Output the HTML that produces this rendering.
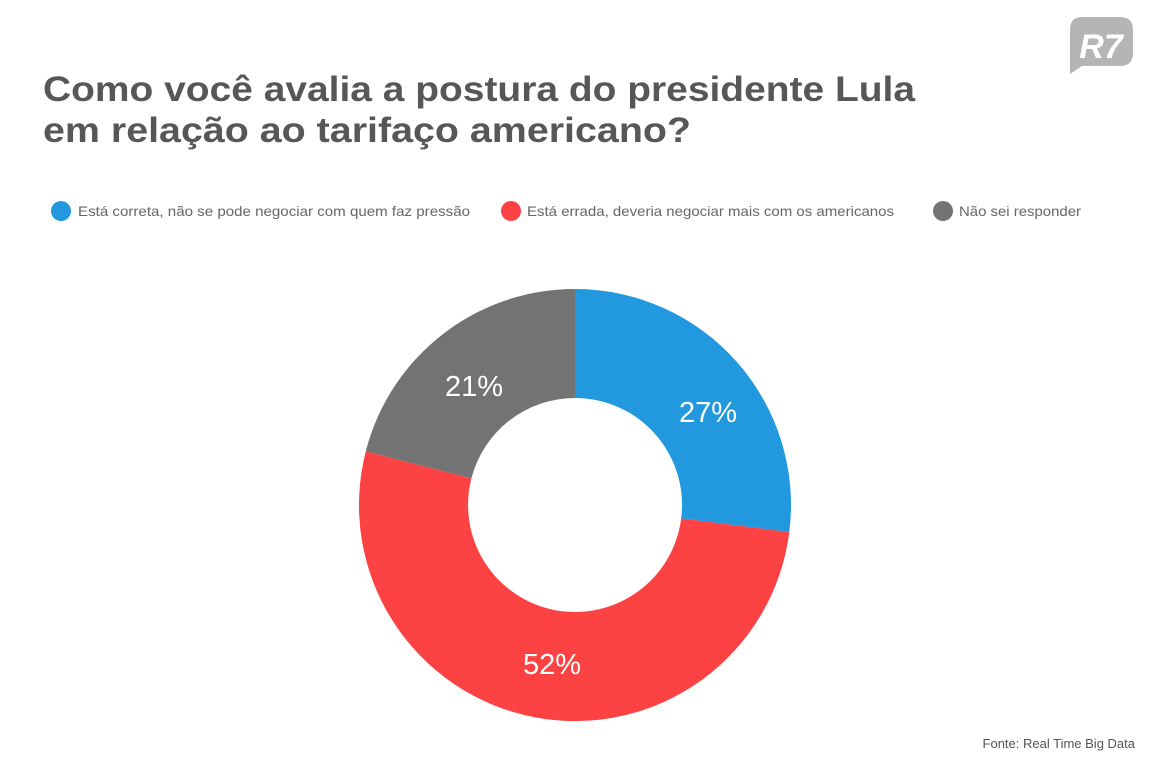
<!DOCTYPE html>
<html><head><meta charset="utf-8"><style>
body{margin:0;width:1152px;height:768px;background:#fff;overflow:hidden;font-family:"Liberation Sans",sans-serif;}
</style></head><body>
<svg width="1152" height="768" xmlns="http://www.w3.org/2000/svg" style="position:absolute;left:0;top:0">
<text x="43" y="101" font-size="35" font-weight="bold" fill="#575757" font-family="Liberation Sans, sans-serif" textLength="872" lengthAdjust="spacingAndGlyphs">Como você avalia a postura do presidente Lula</text>
<text x="43" y="142" font-size="35" font-weight="bold" fill="#575757" font-family="Liberation Sans, sans-serif" textLength="648" lengthAdjust="spacingAndGlyphs">em relação ao tarifaço americano?</text>
<g font-size="14" fill="#666" font-family="Liberation Sans, sans-serif">
<circle cx="61" cy="211" r="10" fill="#2299de"/>
<text x="78" y="216" textLength="392" lengthAdjust="spacingAndGlyphs">Está correta, não se pode negociar com quem faz pressão</text>
<circle cx="511" cy="211" r="10" fill="#fd4243"/>
<text x="527" y="216" textLength="367" lengthAdjust="spacingAndGlyphs">Está errada, deveria negociar mais com os americanos</text>
<circle cx="943" cy="211" r="10" fill="#737373"/>
<text x="959" y="216" textLength="122" lengthAdjust="spacingAndGlyphs">Não sei responder</text>
</g>
<path d="M575,289 A216,216 0 0 1 789.3,532.1 L681.2,518.4 A107,107 0 0 0 575,398 Z" fill="#2299de"/>
<path d="M789.3,532.1 A216,216 0 1 1 365.8,451.3 L471.4,478.4 A107,107 0 1 0 681.2,518.4 Z" fill="#fd4243"/>
<path d="M365.8,451.3 A216,216 0 0 1 575,289 L575,398 A107,107 0 0 0 471.4,478.4 Z" fill="#737373"/>
<g font-size="29" fill="#fff" font-family="Liberation Sans, sans-serif" text-anchor="middle">
<text x="708" y="422">27%</text>
<text x="552" y="674">52%</text>
<text x="474" y="396">21%</text>
</g>
<text x="1135" y="748" font-size="13" fill="#555" text-anchor="end" font-family="Liberation Sans, sans-serif">Fonte: Real Time Big Data</text>
<path d="M1082,17 H1120 Q1133,17 1133,30 V53 Q1133,66 1120,66 H1082 L1070,74 L1070,30 Q1070,17 1082,17 Z" fill="#b5b5b5"/>
<text x="1101" y="58" font-size="34" font-weight="bold" fill="#fff" text-anchor="middle" font-family="Liberation Sans, sans-serif" font-style="italic">R7</text>
</svg>
</body></html>
